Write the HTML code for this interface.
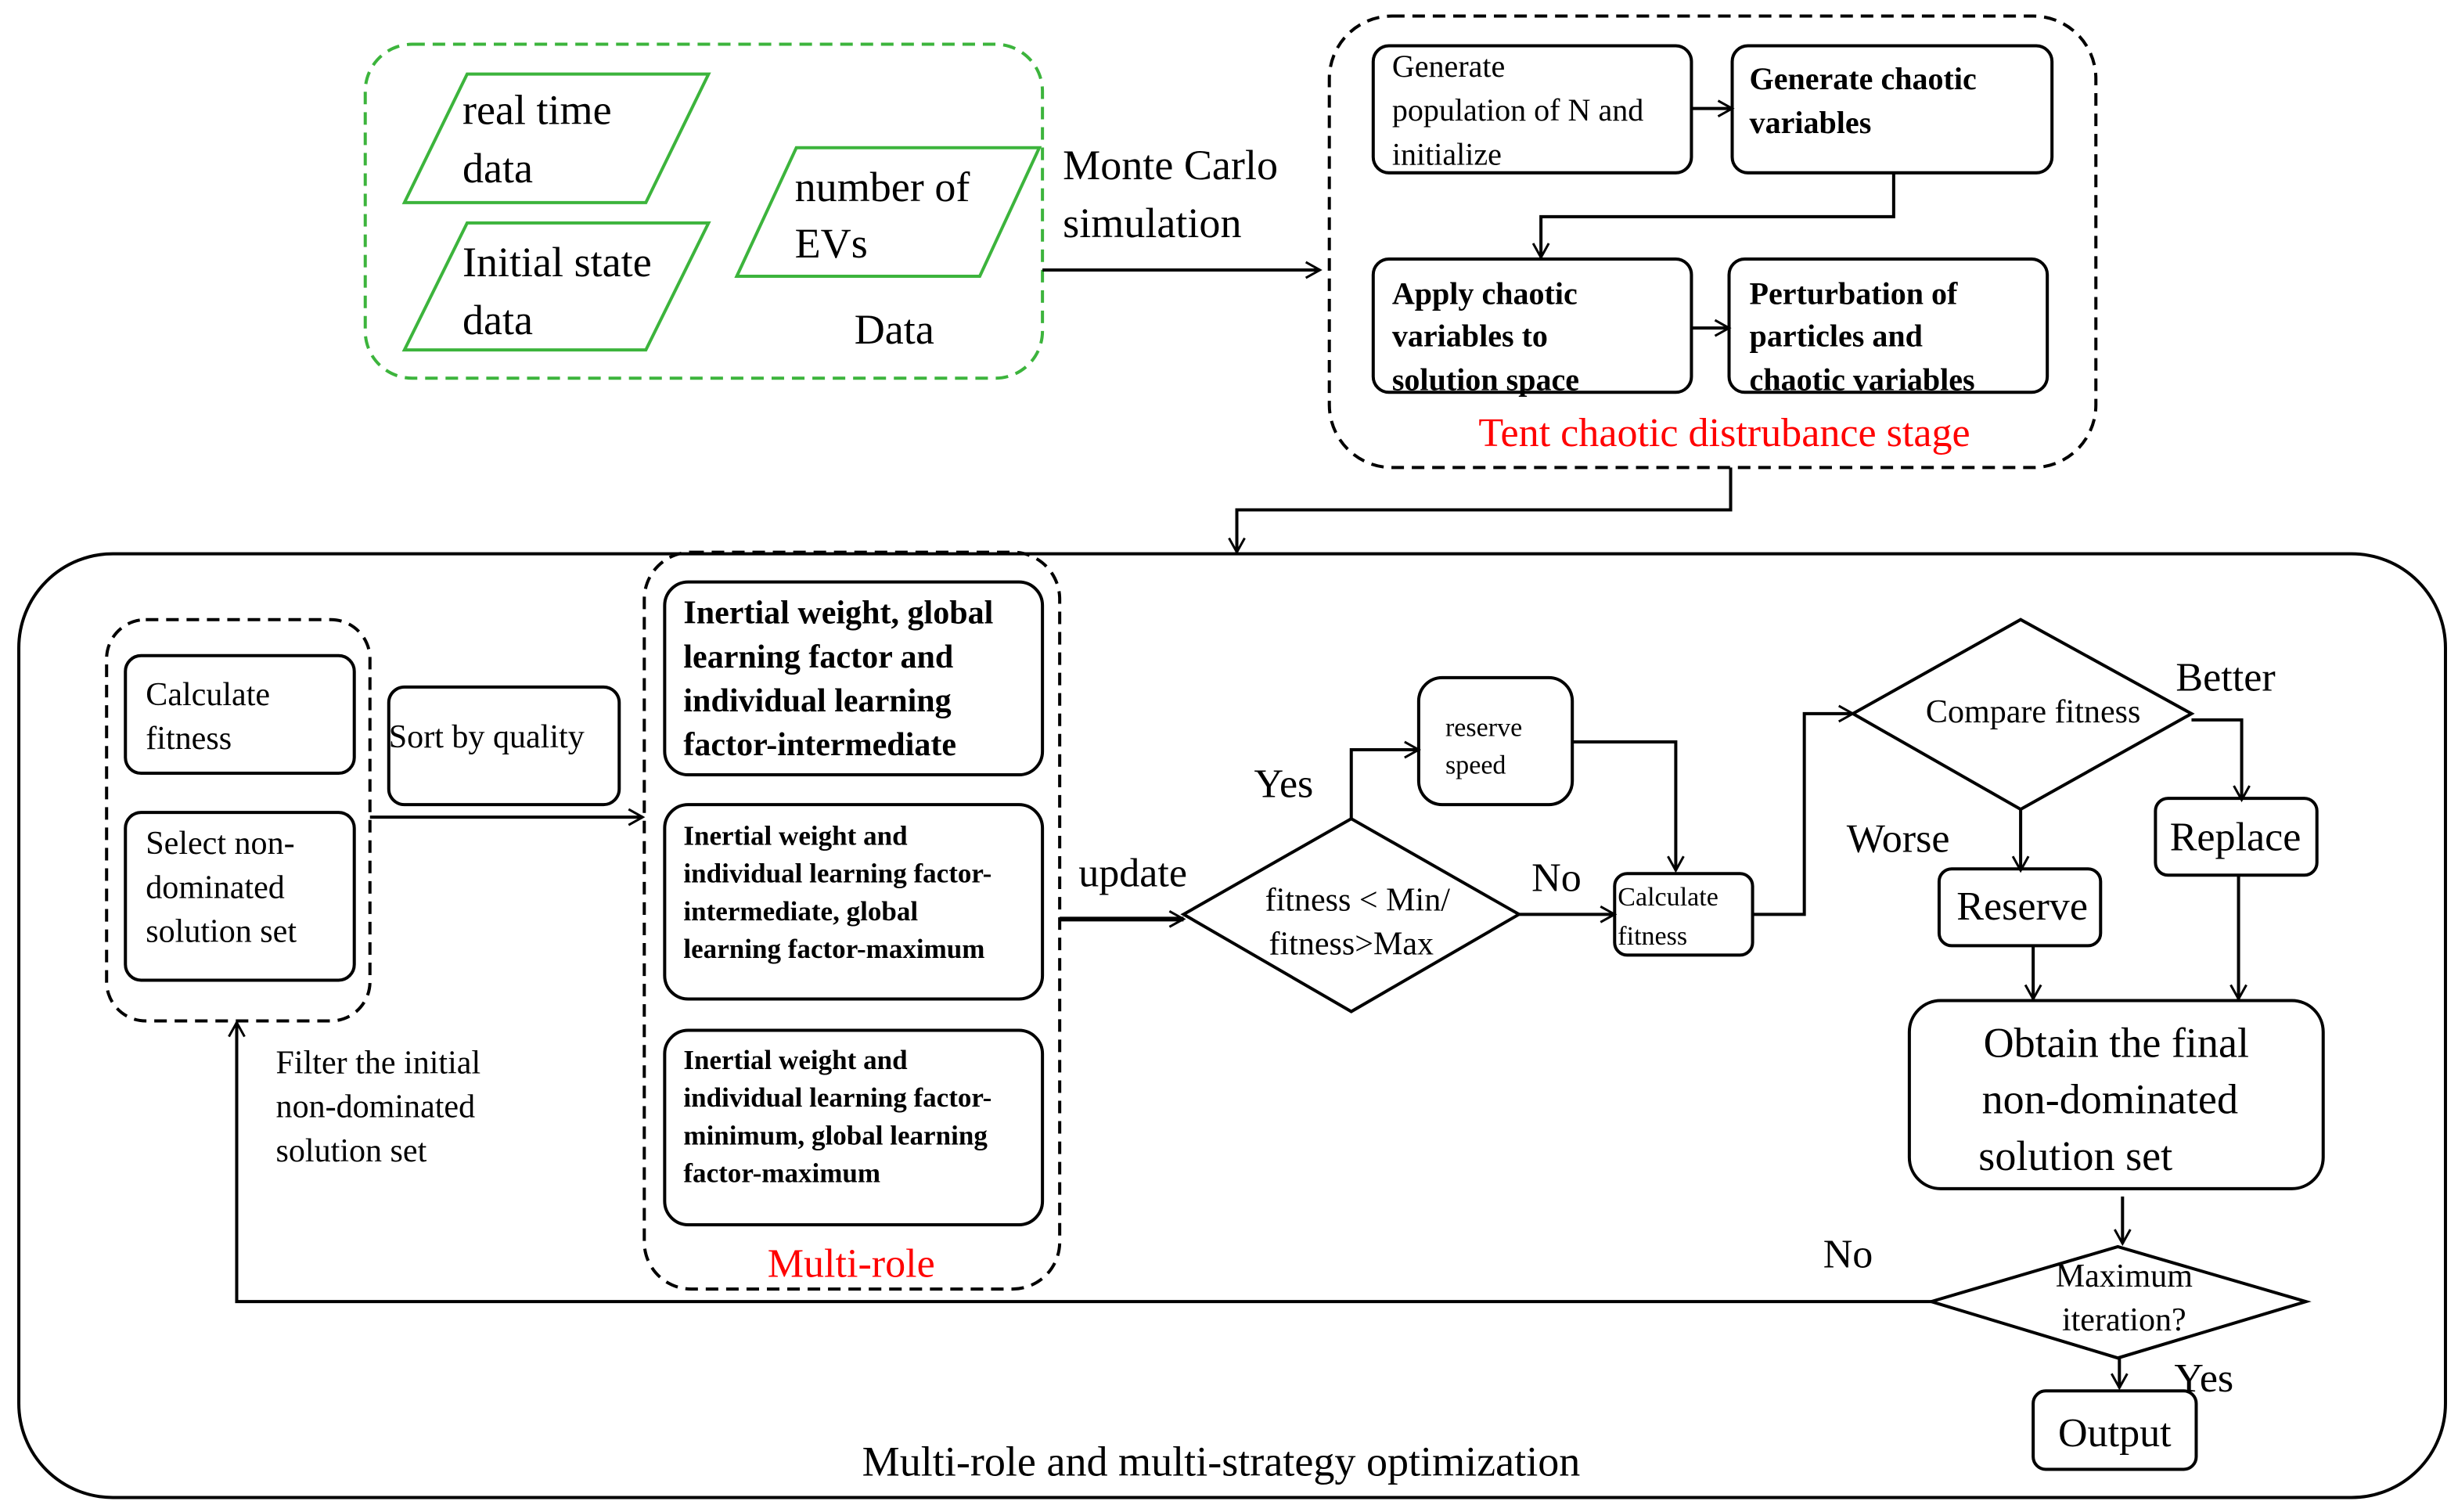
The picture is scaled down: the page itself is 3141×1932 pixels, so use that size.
<!DOCTYPE html>
<html><head><meta charset="utf-8"><style>
html,body{margin:0;padding:0;background:#fff;}
svg{display:block;}
svg text{font-family:"Liberation Serif","Times New Roman",Times,"DejaVu Serif",serif;fill:#000;}
</style></head><body>
<svg width="3141" height="1932" viewBox="0 0 1568 964" xmlns="http://www.w3.org/2000/svg" font-family="Liberation Serif, Times New Roman, DejaVu Serif, serif">
<defs>
<marker id="a" markerWidth="12" markerHeight="12" refX="10" refY="6" orient="auto" markerUnits="userSpaceOnUse">
<path d="M1,1 L10,6 L1,11" fill="none" stroke="#000" stroke-width="1.5"/></marker>
</defs>
<g fill="none" stroke-width="2">
<rect x="233" y="28" width="432" height="213" rx="30" stroke="#3cb43c" stroke-dasharray="8,5"/>
<polygon points="258,129 298,47 452,47 412,129" stroke="#3cb43c"/>
<polygon points="258,223 298,142 452,142 412,223" stroke="#3cb43c"/>
<polygon points="470,176 508,94 663,94 625,176" stroke="#3cb43c"/>
<g stroke="#000">
<line x1="665" y1="172" x2="842" y2="172" marker-end="url(#a)"/>
<rect x="848" y="10" width="489" height="288" rx="40" stroke-dasharray="8,5"/>
<rect x="876" y="29" width="203" height="81" rx="10"/>
<rect x="1105" y="29" width="204" height="81" rx="10"/>
<rect x="876" y="165" width="203" height="85" rx="10"/>
<rect x="1103" y="165" width="203" height="85" rx="10"/>
<line x1="1079" y1="69" x2="1105" y2="69" marker-end="url(#a)"/>
<polyline points="1208,110 1208,138 983,138 983,164" marker-end="url(#a)"/>
<line x1="1079" y1="209" x2="1103" y2="209" marker-end="url(#a)"/>
<polyline points="1104,298 1104,325 789,325 789,352" marker-end="url(#a)"/>
<rect x="12" y="353" width="1548" height="602" rx="60"/>
<rect x="68" y="395" width="168" height="256" rx="25" stroke-dasharray="8,5"/>
<rect x="80" y="418" width="146" height="75" rx="10"/>
<rect x="80" y="518" width="146" height="107" rx="10"/>
<rect x="248" y="438" width="147" height="75" rx="10"/>
<line x1="236" y1="521" x2="410" y2="521" marker-end="url(#a)"/>
<rect x="411" y="352" width="265" height="470" rx="30" stroke-dasharray="8,5"/>
<rect x="424" y="371" width="241" height="123" rx="15"/>
<rect x="424" y="513" width="241" height="124" rx="15"/>
<rect x="424" y="657" width="241" height="124" rx="15"/>
<line x1="676" y1="586" x2="755" y2="586" stroke-width="3" marker-end="url(#a)"/>
<polygon points="755,583 862,522 969,583 862,645"/>
<polyline points="862,522 862,478 905,478" marker-end="url(#a)"/>
<rect x="905" y="432" width="98" height="81" rx="15"/>
<polyline points="1003,473 1069,473 1069,555" marker-end="url(#a)"/>
<line x1="969" y1="583" x2="1030" y2="583" marker-end="url(#a)"/>
<rect x="1030" y="557" width="88" height="52" rx="8"/>
<polyline points="1118,583 1151,583 1151,455 1182,455" marker-end="url(#a)"/>
<polygon points="1182,455 1289,395 1398,455 1289,516"/>
<polyline points="1398,459 1430,459 1430,510" marker-end="url(#a)"/>
<rect x="1375" y="509" width="103" height="49" rx="8"/>
<line x1="1289" y1="516" x2="1289" y2="555" marker-end="url(#a)"/>
<rect x="1237" y="554" width="103" height="49" rx="8"/>
<line x1="1297" y1="603" x2="1297" y2="637" marker-end="url(#a)"/>
<line x1="1428" y1="558" x2="1428" y2="637" marker-end="url(#a)"/>
<rect x="1218" y="638" width="264" height="120" rx="20"/>
<line x1="1354" y1="763" x2="1354" y2="793" marker-end="url(#a)"/>
<polygon points="1232,830 1351,795 1471,830 1351,866"/>
<polyline points="1232,830 151,830 151,652" marker-end="url(#a)"/>
<line x1="1352" y1="866" x2="1352" y2="885" marker-end="url(#a)"/>
<rect x="1297" y="887" width="104" height="50" rx="8"/>
</g></g>
<g dominant-baseline="central">
<g font-size="27">
<text x="295" y="70">real time</text><text x="295" y="107">data</text>
<text x="295" y="167">Initial state</text><text x="295" y="204">data</text>
<text x="507" y="119">number of</text><text x="507" y="155">EVs</text>
<text x="545" y="210">Data</text>
<text x="678" y="105">Monte Carlo</text><text x="678" y="142">simulation</text>
</g>
<g font-size="20">
<text x="888" y="42">Generate</text><text x="888" y="70">population of N and</text><text x="888" y="98">initialize</text>
</g>
<g font-size="20" font-weight="bold">
<text x="1116" y="50">Generate  chaotic</text><text x="1116" y="78">variables</text>
<text x="888" y="187">Apply chaotic</text><text x="888" y="214">variables to</text><text x="888" y="242">solution space</text>
<text x="1116" y="187">Perturbation of</text><text x="1116" y="214">particles and</text><text x="1116" y="242">chaotic variables</text>
</g>
<text x="1100" y="276" font-size="26" text-anchor="middle" style="fill:#f00">Tent chaotic distrubance stage</text>
<g font-size="21">
<text x="93" y="443">Calculate</text><text x="93" y="471">fitness</text>
<text x="93" y="538">Select non-</text><text x="93" y="566">dominated</text><text x="93" y="594">solution set</text>
<text x="248" y="470">Sort by quality</text>
<text x="176" y="678">Filter the initial</text><text x="176" y="706">non-dominated</text><text x="176" y="734">solution set</text>
</g>
<g font-size="21" font-weight="bold">
<text x="436" y="391">Inertial weight, global</text><text x="436" y="419">learning factor and</text>
<text x="436" y="447">individual learning</text><text x="436" y="475">factor-intermediate</text>
</g>
<g font-size="17.5" font-weight="bold">
<text x="436" y="533">Inertial weight and</text><text x="436" y="557">individual learning factor-</text>
<text x="436" y="581">intermediate, global</text><text x="436" y="605">learning factor-maximum</text>
<text x="436" y="676">Inertial weight and</text><text x="436" y="700">individual learning factor-</text>
<text x="436" y="724">minimum, global learning</text><text x="436" y="748">factor-maximum</text>
</g>
<text x="543" y="806" font-size="26" text-anchor="middle" style="fill:#f00">Multi-role</text>
<g font-size="26">
<text x="688" y="557">update</text>
<text x="800" y="500">Yes</text>
<text x="977" y="560">No</text>
<text x="1388" y="432">Better</text>
<text x="1178" y="535">Worse</text>
<text x="1426" y="534" text-anchor="middle">Replace</text>
<text x="1290" y="578" text-anchor="middle">Reserve</text>
<text x="1163" y="800">No</text>
<text x="1387" y="879">Yes</text>
<text x="1349" y="914" text-anchor="middle">Output</text>
<text x="779" y="932" font-size="27" text-anchor="middle">Multi-role and multi-strategy optimization</text>
</g>
<g font-size="27" text-anchor="middle">
<text x="1350" y="665">Obtain the final</text><text x="1346" y="701">non-dominated</text><text x="1324" y="737">solution set</text>
</g>
<g font-size="21" text-anchor="middle">
<text x="866" y="574">fitness &lt; Min/</text><text x="862" y="602">fitness&gt;Max</text>
<text x="1297" y="454">Compare fitness</text>
<text x="1355" y="814">Maximum</text><text x="1355" y="842">iteration?</text>
</g>
<g font-size="17">
<text x="922" y="464">reserve</text><text x="922" y="488">speed</text>
<text x="1032" y="572">Calculate</text><text x="1032" y="597">fitness</text>
</g>
</g>
</svg>
</body></html>
